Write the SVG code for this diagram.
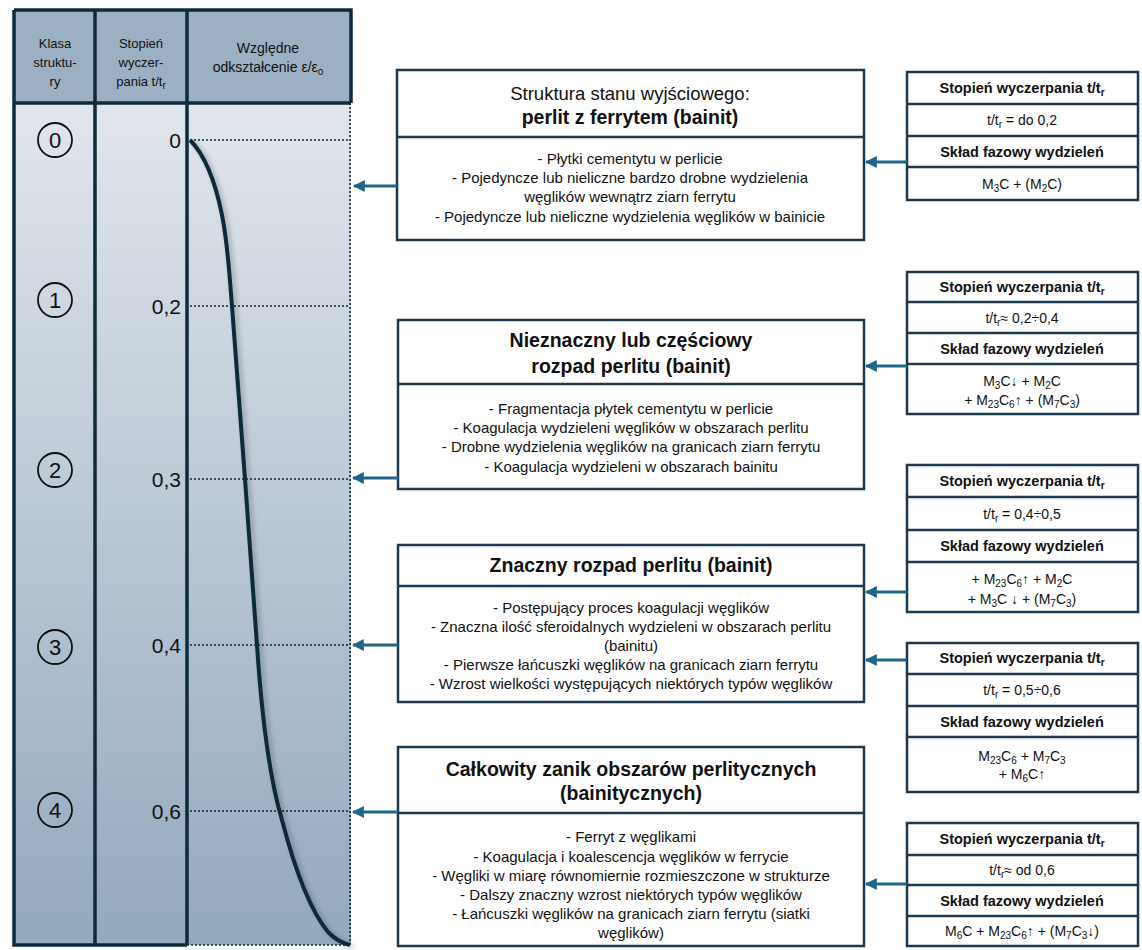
<svg xmlns="http://www.w3.org/2000/svg" width="1142" height="950" viewBox="0 0 1142 950">
<defs>
<linearGradient id="bodyGrad" x1="0" y1="0" x2="0" y2="1">
<stop offset="0" stop-color="#E1E6EC"/>
<stop offset="1" stop-color="#93A9BE"/>
</linearGradient>
<marker id="ah" viewBox="0 0 10 10" refX="9" refY="5" markerWidth="4" markerHeight="4" orient="auto" markerUnits="strokeWidth">
<path d="M0,0 L10,5 L0,10 Z" fill="#1E6687"/>
</marker>
<filter id="sh" x="-20%" y="-5%" width="140%" height="110%">
<feGaussianBlur in="SourceAlpha" stdDeviation="2.5"/>
<feOffset dx="3" dy="2" result="b"/>
<feFlood flood-color="#000" flood-opacity="0.25"/>
<feComposite in2="b" operator="in"/>
<feMerge><feMergeNode/><feMergeNode in="SourceGraphic"/></feMerge>
</filter>
</defs>
<style>
.hdr{font-family:"Liberation Sans",Arial,sans-serif;font-size:13px;fill:#111;text-anchor:middle}
.hdr2{font-family:"Liberation Sans",Arial,sans-serif;font-size:14px;fill:#111;text-anchor:middle}
.val{font-family:"Liberation Sans",Arial,sans-serif;font-size:21px;fill:#111;text-anchor:end}
.cnum{font-family:"Liberation Sans",Arial,sans-serif;font-size:22px;fill:#111;text-anchor:middle}
.circ{fill:none;stroke:#111;stroke-width:1.8}
.grid{stroke:#0E2A3B;stroke-width:3.5;fill:none}
.dot{stroke:#0E2A3B;stroke-width:1.6;stroke-dasharray:2 2;fill:none}
.box{fill:#fff;stroke:#1B3A52;stroke-width:2.5}
.div{stroke:#1B3A52;stroke-width:2.5}
.bt{font-family:"Liberation Sans",Arial,sans-serif;font-size:15px;fill:#111;text-anchor:middle}
.ht{font-family:"Liberation Sans",Arial,sans-serif;font-size:18.5px;fill:#111;text-anchor:middle}
.hb{font-family:"Liberation Sans",Arial,sans-serif;font-size:19.5px;font-weight:bold;fill:#111;text-anchor:middle}
.tb{font-family:"Liberation Sans",Arial,sans-serif;font-size:14.5px;font-weight:bold;fill:#111;text-anchor:middle}
.tt{font-family:"Liberation Sans",Arial,sans-serif;font-size:14px;fill:#111;text-anchor:middle}
.sb{font-size:10px}
.arr{stroke:#1E6687;stroke-width:3;fill:none;marker-end:url(#ah)}
</style>

<g id="chart-table">
<rect x="14" y="10" width="337" height="93" fill="#9CB0C3"/>
<rect x="14" y="103" width="337" height="842" fill="url(#bodyGrad)"/>
<path class="grid" d="M14,10 H351 V103 M14,10 V945 H187 M95,10 V945 M187,10 V945 M14,103 H351"/>
<path class="dot" d="M350,103 V945 M187,945 H350"/>
<text class="hdr" x="55" y="48">Klasa</text>
<text class="hdr" x="55" y="67">struktu-</text>
<text class="hdr" x="55" y="86">ry</text>
<text class="hdr" x="141" y="48">Stopień</text>
<text class="hdr" x="141" y="67">wyczer-</text>
<text class="hdr" x="141" y="86">pania t/t<tspan class="sb" dy="3">r</tspan></text>
<text class="hdr2" x="268" y="53">Względne</text>
<text class="hdr2" x="268" y="72">odkształcenie ε/ε<tspan class="sb" dy="3">o</tspan></text>

<circle class="circ" cx="55" cy="140" r="17"/><text class="cnum" x="55" y="148">0</text>
<circle class="circ" cx="55" cy="300" r="17"/><text class="cnum" x="55" y="308">1</text>
<circle class="circ" cx="55" cy="470" r="17"/><text class="cnum" x="55" y="478">2</text>
<circle class="circ" cx="55" cy="647" r="17"/><text class="cnum" x="55" y="655">3</text>
<circle class="circ" cx="55" cy="810" r="17"/><text class="cnum" x="55" y="818">4</text>

<text class="val" x="181" y="148">0</text>
<text class="val" x="181" y="314">0,2</text>
<text class="val" x="181" y="487">0,3</text>
<text class="val" x="181" y="653">0,4</text>
<text class="val" x="181" y="819">0,6</text>

<path class="dot" d="M190,140 H350 M190,306 H350 M190,479 H350 M190,645 H350 M190,811 H350"/>
<path d="M190,140 C205,155 215,180 222,215 C228,245 229,270 232,306 L245,479 L257,645 C262,720 270,780 282,820 C295,870 310,910 328,932 C337,941 345,944 350,945" fill="none" stroke="#0E2A3B" stroke-width="4" filter="url(#sh)"/>
</g>

<g id="box1">
<rect class="box" x="397" y="70" width="467" height="170"/>
<line class="div" x1="397" y1="137" x2="864" y2="137"/>
<text class="ht" x="630" y="100">Struktura stanu wyjściowego:</text>
<text class="hb" x="630" y="124">perlit z ferrytem (bainit)</text>
<text class="bt" x="630" y="164">-  Płytki cementytu w perlicie</text>
<text class="bt" x="630" y="183">-  Pojedyncze lub nieliczne bardzo drobne wydzielenia</text>
<text class="bt" x="630" y="202">węglików wewnątrz ziarn ferrytu</text>
<text class="bt" x="630" y="222">-  Pojedyncze lub nieliczne wydzielenia węglików w bainicie</text>
</g>

<g id="box2">
<rect class="box" x="398" y="320" width="466" height="169"/>
<line class="div" x1="398" y1="384" x2="864" y2="384"/>
<text class="hb" x="631" y="347">Nieznaczny lub częściowy</text>
<text class="hb" x="631" y="373">rozpad perlitu (bainit)</text>
<text class="bt" x="631" y="414">-  Fragmentacja płytek cementytu w perlicie</text>
<text class="bt" x="631" y="433">-  Koagulacja wydzieleni węglików w obszarach perlitu</text>
<text class="bt" x="631" y="452">-  Drobne wydzielenia węglików na granicach ziarn ferrytu</text>
<text class="bt" x="631" y="472">-  Koagulacja wydzieleni w obszarach bainitu</text>
</g>

<g id="box3">
<rect class="box" x="398" y="545" width="466" height="157"/>
<line class="div" x1="398" y1="586" x2="864" y2="586"/>
<text class="hb" x="631" y="572">Znaczny rozpad perlitu (bainit)</text>
<text class="bt" x="631" y="613">-  Postępujący proces koagulacji węglików</text>
<text class="bt" x="631" y="632">-  Znaczna ilość sferoidalnych wydzieleni w obszarach perlitu</text>
<text class="bt" x="631" y="651">(bainitu)</text>
<text class="bt" x="631" y="670">-  Pierwsze łańcuszki węglików na granicach ziarn ferrytu</text>
<text class="bt" x="631" y="689">-  Wzrost wielkości występujących niektórych typów węglików</text>
</g>

<g id="box4">
<rect class="box" x="398" y="747" width="466" height="199"/>
<line class="div" x1="398" y1="813" x2="864" y2="813"/>
<text class="hb" x="631" y="776">Całkowity zanik obszarów perlitycznych</text>
<text class="hb" x="631" y="800">(bainitycznych)</text>
<text class="bt" x="631" y="842">-  Ferryt z węglikami</text>
<text class="bt" x="631" y="862">-  Koagulacja i koalescencja węglików w ferrycie</text>
<text class="bt" x="631" y="881">-  Węgliki w miarę równomiernie rozmieszczone w strukturze</text>
<text class="bt" x="631" y="900">-  Dalszy znaczny wzrost niektórych typów węglików</text>
<text class="bt" x="631" y="919">-  Łańcuszki węglików na granicach ziarn ferrytu (siatki</text>
<text class="bt" x="631" y="938">węglików)</text>
</g>

<g id="table1">
<rect class="box" x="907" y="72" width="231" height="128"/>
<path class="div" d="M907,104 H1138 M907,136 H1138 M907,167 H1138"/>
<text class="tb" x="1022" y="93">Stopień wyczerpania t/t<tspan class="sb" dy="3">r</tspan></text>
<text class="tt" x="1022" y="125">t/t<tspan class="sb" dy="3">r</tspan><tspan dy="-3"> = do 0,2</tspan></text>
<text class="tb" x="1022" y="157">Skład fazowy wydzieleń</text>
<text class="tt" x="1022" y="189">M<tspan class="sb" dy="3">3</tspan><tspan dy="-3">C + (M</tspan><tspan class="sb" dy="3">2</tspan><tspan dy="-3">C)</tspan></text>
</g>

<g id="table2">
<rect class="box" x="907" y="272" width="231" height="142"/>
<path class="div" d="M907,302 H1138 M907,333 H1138 M907,364 H1138"/>
<text class="tb" x="1022" y="292">Stopień wyczerpania t/t<tspan class="sb" dy="3">r</tspan></text>
<text class="tt" x="1022" y="323">t/t<tspan class="sb" dy="3">r</tspan><tspan dy="-3">≈ 0,2÷0,4</tspan></text>
<text class="tb" x="1022" y="354">Skład fazowy wydzieleń</text>
<text class="tt" x="1022" y="386">M<tspan class="sb" dy="3">3</tspan><tspan dy="-3">C↓  + M</tspan><tspan class="sb" dy="3">2</tspan><tspan dy="-3">C</tspan></text>
<text class="tt" x="1022" y="405">+ M<tspan class="sb" dy="3">23</tspan><tspan dy="-3">C</tspan><tspan class="sb" dy="3">6</tspan><tspan dy="-3">↑ + (M</tspan><tspan class="sb" dy="3">7</tspan><tspan dy="-3">C</tspan><tspan class="sb" dy="3">3</tspan><tspan dy="-3">)</tspan></text>
</g>

<g id="table3">
<rect class="box" x="907" y="465" width="231" height="147"/>
<path class="div" d="M907,497 H1138 M907,530 H1138 M907,562 H1138"/>
<text class="tb" x="1022" y="486">Stopień wyczerpania t/t<tspan class="sb" dy="3">r</tspan></text>
<text class="tt" x="1022" y="519">t/t<tspan class="sb" dy="3">r</tspan><tspan dy="-3"> = 0,4÷0,5</tspan></text>
<text class="tb" x="1022" y="551">Skład fazowy wydzieleń</text>
<text class="tt" x="1022" y="584">+ M<tspan class="sb" dy="3">23</tspan><tspan dy="-3">C</tspan><tspan class="sb" dy="3">6</tspan><tspan dy="-3">↑ + M</tspan><tspan class="sb" dy="3">2</tspan><tspan dy="-3">C</tspan></text>
<text class="tt" x="1022" y="604">+ M<tspan class="sb" dy="3">3</tspan><tspan dy="-3">C ↓ + (M</tspan><tspan class="sb" dy="3">7</tspan><tspan dy="-3">C</tspan><tspan class="sb" dy="3">3</tspan><tspan dy="-3">)</tspan></text>
</g>

<g id="table4">
<rect class="box" x="907" y="643" width="231" height="149"/>
<path class="div" d="M907,674 H1138 M907,706 H1138 M907,737 H1138"/>
<text class="tb" x="1022" y="663">Stopień wyczerpania t/t<tspan class="sb" dy="3">r</tspan></text>
<text class="tt" x="1022" y="695">t/t<tspan class="sb" dy="3">r</tspan><tspan dy="-3"> = 0,5÷0,6</tspan></text>
<text class="tb" x="1022" y="727">Skład fazowy wydzieleń</text>
<text class="tt" x="1022" y="761">M<tspan class="sb" dy="3">23</tspan><tspan dy="-3">C</tspan><tspan class="sb" dy="3">6</tspan><tspan dy="-3"> + M</tspan><tspan class="sb" dy="3">7</tspan><tspan dy="-3">C</tspan><tspan class="sb" dy="3">3</tspan></text>
<text class="tt" x="1022" y="779">+ M<tspan class="sb" dy="3">6</tspan><tspan dy="-3">C↑</tspan></text>
</g>

<g id="table5">
<rect class="box" x="907" y="823" width="231" height="123"/>
<path class="div" d="M907,855 H1138 M907,885 H1138 M907,916 H1138"/>
<text class="tb" x="1022" y="844">Stopień wyczerpania t/t<tspan class="sb" dy="3">r</tspan></text>
<text class="tt" x="1022" y="875">t/t<tspan class="sb" dy="3">r</tspan><tspan dy="-3">≈ od 0,6</tspan></text>
<text class="tb" x="1022" y="906">Skład fazowy wydzieleń</text>
<text class="tt" x="1022" y="936">M<tspan class="sb" dy="3">6</tspan><tspan dy="-3">C + M</tspan><tspan class="sb" dy="3">23</tspan><tspan dy="-3">C</tspan><tspan class="sb" dy="3">6</tspan><tspan dy="-3">↑ + (M</tspan><tspan class="sb" dy="3">7</tspan><tspan dy="-3">C</tspan><tspan class="sb" dy="3">3</tspan><tspan dy="-3">↓)</tspan></text>
</g>

<g id="connectors">
<line class="arr" x1="397" y1="186" x2="354" y2="186"/>
<line class="arr" x1="398" y1="478" x2="353" y2="478"/>
<line class="arr" x1="398" y1="645" x2="353" y2="645"/>
<line class="arr" x1="398" y1="812" x2="353" y2="812"/>
<line class="arr" x1="907" y1="162" x2="866" y2="162"/>
<line class="arr" x1="907" y1="366" x2="866" y2="366"/>
<line class="arr" x1="907" y1="592" x2="866" y2="592"/>
<line class="arr" x1="907" y1="660" x2="866" y2="660"/>
<line class="arr" x1="907" y1="884" x2="866" y2="884"/>
</g>
</svg>
